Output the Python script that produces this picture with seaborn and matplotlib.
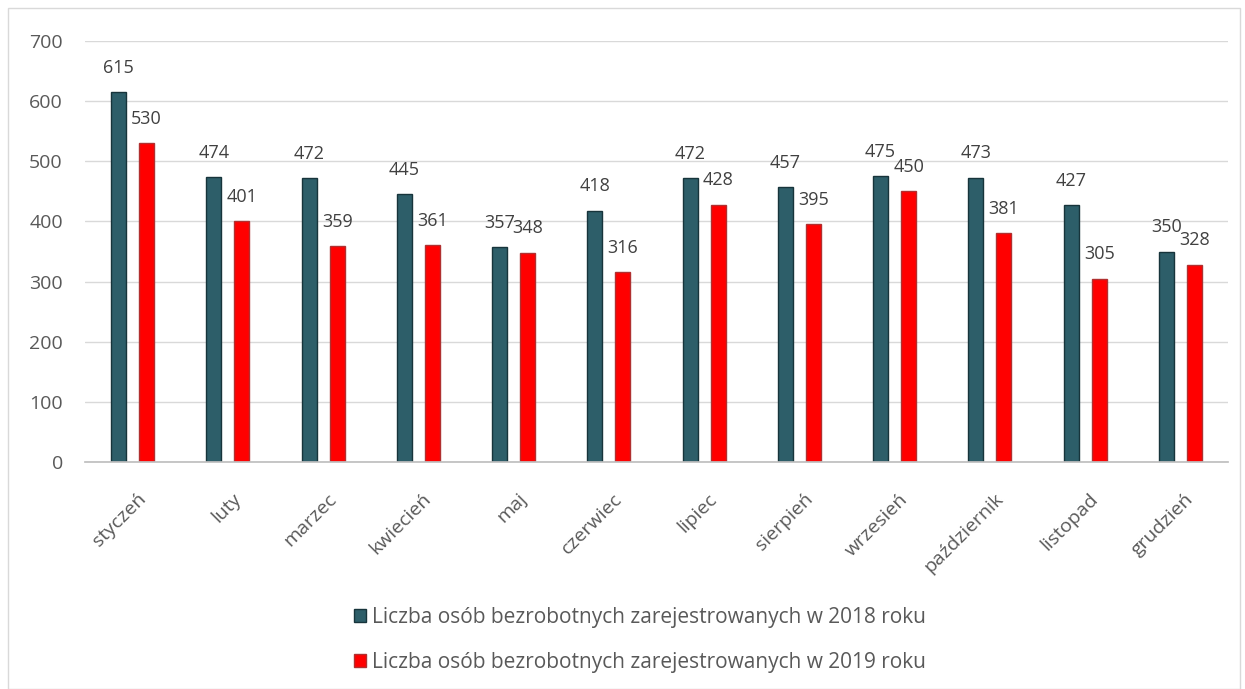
import pandas as pd
import numpy as np
import matplotlib.pyplot as plt
import matplotlib.transforms as mtransforms
import seaborn as sns
from matplotlib.patches import Rectangle, Patch

sns.set_theme(style="white")
plt.rcParams['font.family'] = ['Open Sans', 'DejaVu Sans']

months = ["styczeń", "luty", "marzec", "kwiecień", "maj", "czerwiec",
          "lipiec", "sierpień", "wrzesień", "październik", "listopad", "grudzień"]
vals_2018 = [615, 474, 472, 445, 357, 418, 472, 457, 475, 473, 427, 350]
vals_2019 = [530, 401, 359, 361, 348, 316, 428, 395, 450, 381, 305, 328]
series = ["Liczba osób bezrobotnych zarejestrowanych w 2018 roku",
          "Liczba osób bezrobotnych zarejestrowanych w 2019 roku"]

df = pd.DataFrame({
    "miesiac": months * 2,
    "wartosc": vals_2018 + vals_2019,
    "seria": [series[0]] * 12 + [series[1]] * 12,
})

colors = ["#2D5E69", "#FF0000"]
edges = ["#17343B", "#B03030"]

fig = plt.figure(figsize=(12.45, 6.89), dpi=100)
ax = fig.add_axes([85 / 1245, 1 - 462 / 689, (1228 - 85) / 1245, (462 - 41) / 689])

sns.barplot(data=df, x="miesiac", y="wartosc", hue="seria", order=months,
            hue_order=series, palette=colors, saturation=1, width=0.59, gap=0.47,
            ax=ax, legend=False)

for i, cont in enumerate(ax.containers):
    for bar in cont:
        bar.set_edgecolor(edges[i])
        bar.set_linewidth(1.0)
        h = bar.get_height()
        ax.annotate(f"{int(round(h))}", (bar.get_x() + bar.get_width() / 2, h),
                    xytext=(0, 11), textcoords="offset points",
                    ha="center", va="bottom", fontsize=13, color="#404040")

ax.set_ylim(0, 700)
ax.set_yticks(np.arange(0, 701, 100))
ax.yaxis.grid(True, color="#D9D9D9", lw=1)
ax.set_axisbelow(True)
for s in ["top", "right", "left"]:
    ax.spines[s].set_visible(False)
ax.spines["bottom"].set_color("#BFBFBF")
ax.set_xlabel("")
ax.set_ylabel("")
ax.tick_params(axis="y", labelsize=14, colors="#595959", length=0, pad=16)
ax.tick_params(axis="x", labelsize=14, colors="#595959", length=0, pad=20)
shift = mtransforms.ScaledTranslation(4 / 100, 0, fig.dpi_scale_trans)
for lbl in ax.get_xticklabels():
    lbl.set_rotation(45)
    lbl.set_ha("right")
    lbl.set_rotation_mode("anchor")
    lbl.set_transform(lbl.get_transform() + shift)
ax.set_xlim(-0.5, 11.5)

handles = [Patch(facecolor=colors[k], edgecolor=edges[k], label=series[k]) for k in range(2)]
fig.legend(handles=handles, loc="center", bbox_to_anchor=(640 / 1245, 1 - 640 / 689),
           ncol=1, frameon=False, fontsize=15, labelcolor="#595959",
           handlelength=0.6, handleheight=0.6, handletextpad=0.3, labelspacing=1.15)

fig.add_artist(Rectangle((8 / 1245, 0), (1240 - 8) / 1245, 1 - 8 / 689,
                         transform=fig.transFigure, fill=False,
                         edgecolor="#D9D9D9", lw=1))

fig.savefig("out.png", dpi=100)
